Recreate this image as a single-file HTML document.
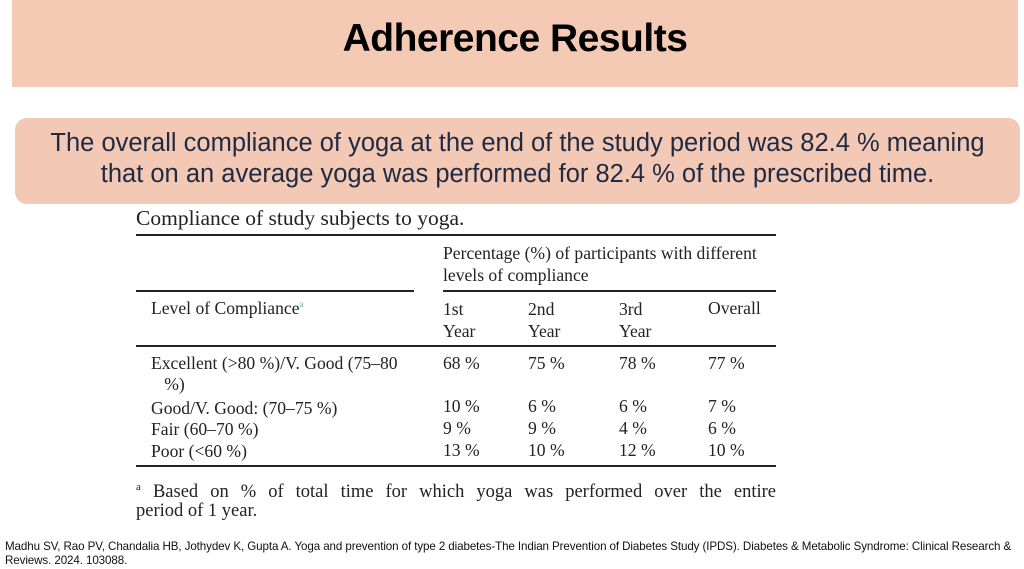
<!DOCTYPE html>
<html><head><style>
body{margin:0;width:1024px;height:569px;background:#fff;position:relative;overflow:hidden;font-family:"Liberation Sans",sans-serif}
.a{position:absolute;white-space:nowrap}
.s{font-family:"Liberation Serif",serif;font-size:17.6px;color:#222}
.l{position:absolute;background:#222}
</style></head><body>
<div class="a" style="left:12px;top:0;width:1006px;height:87px;background:#f4cab5"></div>
<div class="a" style="left:12px;top:17px;width:1006px;text-align:center;font-size:39px;font-weight:bold;color:#000;letter-spacing:-0.5px">Adherence Results</div>
<div class="a" style="left:15px;top:118px;width:1005px;height:86px;background:#f3c8b4;border-radius:12px"></div>
<div class="a" style="left:15px;top:128px;width:1005px;text-align:center;font-size:25.5px;line-height:31px;color:#1f2a44">The overall compliance of yoga at the end of the study period was 82.4 % meaning<br>that on an average yoga was performed for 82.4 % of the prescribed time.</div>

<div class="a" style="left:136px;top:204px;width:640px;height:30px;overflow:hidden"><div class="a s" style="left:0;top:2px;font-size:21.5px">Compliance of study subjects to yoga.</div></div>
<div class="l" style="left:136px;top:234px;width:640px;height:2px"></div>
<div class="a s" style="left:443px;top:243px">Percentage (%) of participants with different</div>
<div class="a s" style="left:443px;top:265px">levels of compliance</div>
<div class="l" style="left:136px;top:290px;width:278px;height:2px"></div>
<div class="l" style="left:443px;top:290px;width:333px;height:2px"></div>
<div class="a s" style="left:151px;top:298px">Level of Compliance<sup style="font-size:9px;color:#6aa">a</sup></div>
<div class="a s" style="left:443px;top:298px;line-height:22px">1st<br>Year</div>
<div class="a s" style="left:528px;top:298px;line-height:22px">2nd<br>Year</div>
<div class="a s" style="left:619px;top:298px;line-height:22px">3rd<br>Year</div>
<div class="a s" style="left:708px;top:298px">Overall</div>
<div class="l" style="left:136px;top:345px;width:640px;height:2px"></div>
<div class="a s" style="left:151px;top:353px;line-height:21px">Excellent (&gt;80 %)/V. Good (75–80<br>&nbsp;&nbsp;&nbsp;%)</div>
<div class="a s" style="left:151px;top:398px">Good/V. Good: (70–75 %)</div>
<div class="a s" style="left:151px;top:419px">Fair (60–70 %)</div>
<div class="a s" style="left:151px;top:441px">Poor (&lt;60 %)</div>
<div class="a s" style="left:443px;top:353px;line-height:21.7px">68 %<br><br>10 %<br>9 %<br>13 %</div>
<div class="a s" style="left:528px;top:353px;line-height:21.7px">75 %<br><br>6 %<br>9 %<br>10 %</div>
<div class="a s" style="left:619px;top:353px;line-height:21.7px">78 %<br><br>6 %<br>4 %<br>12 %</div>
<div class="a s" style="left:708px;top:353px;line-height:21.7px">77 %<br><br>7 %<br>6 %<br>10 %</div>
<div class="l" style="left:136px;top:465px;width:640px;height:2px"></div>
<div class="a s" style="left:136px;top:475px;width:640px;font-size:18.5px;line-height:24px;white-space:normal;text-align:justify;text-align-last:justify"><sup style="font-size:11px">a</sup> Based on % of total time for which yoga was performed over the entire</div>
<div class="a s" style="left:136px;top:499px;font-size:18.5px;line-height:24px">period of 1 year.</div>
<div class="a" style="left:5px;top:540px;font-size:11.6px;line-height:14px;color:#111;letter-spacing:-0.1px">Madhu SV, Rao PV, Chandalia HB, Jothydev K, Gupta A. Yoga and prevention of type 2 diabetes-The Indian Prevention of Diabetes Study (IPDS). Diabetes &amp; Metabolic Syndrome: Clinical Research &amp;<br>Reviews. 2024. 103088.</div>
</body></html>
